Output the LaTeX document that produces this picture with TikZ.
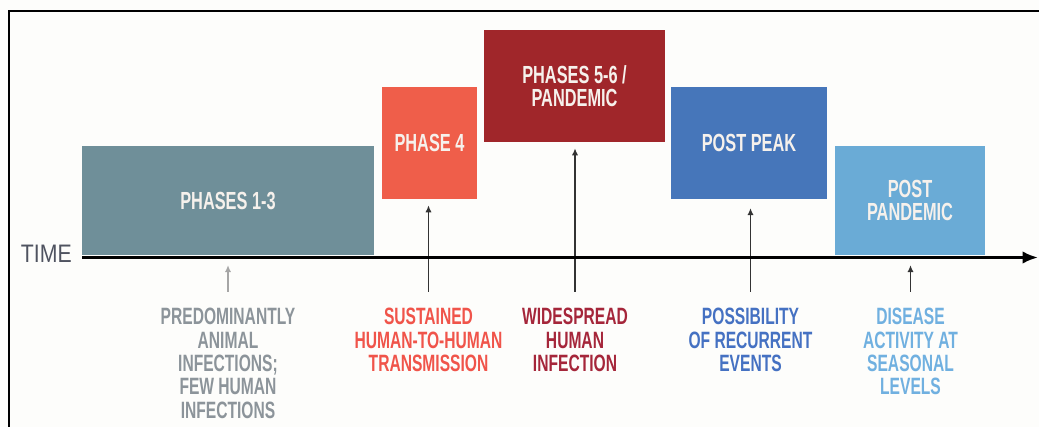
\documentclass[tikz,border=0pt]{standalone}
\usepackage{fontspec}
\usetikzlibrary{arrows.meta,positioning}
\newfontfamily\condfont[FakeStretch=0.66]{Liberation Sans}
\newfontfamily\timefont[FakeStretch=0.84]{Liberation Sans}
\definecolor{paper}{HTML}{FDFDFB}
\definecolor{boxtext}{HTML}{F6F1EC}
\definecolor{earlyc}{HTML}{6F8F99}
\definecolor{fourc}{HTML}{EF5E4A}
\definecolor{pandc}{HTML}{A0262A}
\definecolor{peakc}{HTML}{4676BA}
\definecolor{postc}{HTML}{6AABD6}
\definecolor{earlyt}{HTML}{8C949A}
\definecolor{fourt}{HTML}{F0544A}
\definecolor{pandt}{HTML}{A5263A}
\definecolor{peakt}{HTML}{4571C2}
\definecolor{postt}{HTML}{70B0E0}
\definecolor{timet}{HTML}{4F5360}
\definecolor{stem}{HTML}{333333}

\tikzset{
  phasebox/.style={inner sep=0pt, align=center, text=boxtext,
    font=\condfont\bfseries\fontsize{17.6pt}{16.8pt}\selectfont},
  note/.style={anchor=north, inner sep=0pt, align=center,
    font=\condfont\bfseries\fontsize{16.8pt}{16.6pt}\selectfont},
  pointer/.style={draw=stem, line width=1.4pt, -{Latex[length=5pt,width=4.5pt]}},
  timeline/.style={line width=2.8pt, -{Latex[length=11pt,width=9pt]}},
}

\begin{document}
\begin{tikzpicture}[x=0.025cm, y=-0.025cm]
\fill[paper] (0,0) rectangle (1039,427);
\useasboundingbox (0,0) rectangle (1039,427);
\draw[line width=1.8pt] (1039,11) -- (9,11) -- (9,427);

\draw (228,200.5) node[phasebox, fill=earlyc, minimum width=7.3cm, minimum height=2.725cm] (early) {PHASES 1-3};
\draw (429.5,143) node[phasebox, fill=fourc, minimum width=2.375cm, minimum height=2.8cm] (four) {PHASE 4};
\draw (574.5,86) node[phasebox, fill=pandc, minimum width=4.525cm, minimum height=2.8cm] (pandemic) {PHASES 5-6 /\\PANDEMIC};
\draw (749,143) node[phasebox, fill=peakc, minimum width=3.9cm, minimum height=2.8cm] (peak) {POST PEAK};
\draw (910,200.5) node[phasebox, fill=postc, minimum width=3.75cm, minimum height=2.725cm] (post) {POST\\PANDEMIC};

\coordinate (start) at (82,257.5);
\coordinate (end) at (1038,257.5);
\node[anchor=east, inner sep=0pt, text=timet, font=\timefont\fontsize{18pt}{18pt}\selectfont,
  left=0.25cm of start, yshift=2.5pt] (time) {TIME};

\draw (228,308) node[note, text=earlyt] (earlynote) {PREDOMINANTLY\\ANIMAL\\INFECTIONS;\\FEW HUMAN\\INFECTIONS};
\draw (428.5,308) node[note, text=fourt] (fournote) {SUSTAINED\\HUMAN-TO-HUMAN\\TRANSMISSION};
\draw (575,308) node[note, text=pandt] (pandnote) {WIDESPREAD\\HUMAN\\INFECTION};
\draw (750.5,308) node[note, text=peakt] (peaknote) {POSSIBILITY\\OF RECURRENT\\EVENTS};
\draw (910.5,308) node[note, text=postt] (postnote) {DISEASE\\ACTIVITY AT\\SEASONAL\\LEVELS};

\draw[pointer, draw=gray!70, line width=1pt, shorten <=0.4cm, shorten >=0.19cm] (earlynote.north) -- (earlynote.north |- start);
\draw[pointer, shorten <=0.4cm, shorten >=0.15cm] (fournote.north) -- (fournote.north |- four.south);
\draw[pointer, shorten <=0.4cm, shorten >=0.15cm] (pandnote.north) -- (pandnote.north |- pandemic.south);
\draw[pointer, shorten <=0.4cm, shorten >=0.22cm] (peaknote.north) -- (peaknote.north |- peak.south);
\draw[pointer, shorten <=0.4cm, shorten >=0.19cm] (postnote.north) -- (postnote.north |- start);

\draw[timeline] (start) -- (end);
\end{tikzpicture}
\end{document}
